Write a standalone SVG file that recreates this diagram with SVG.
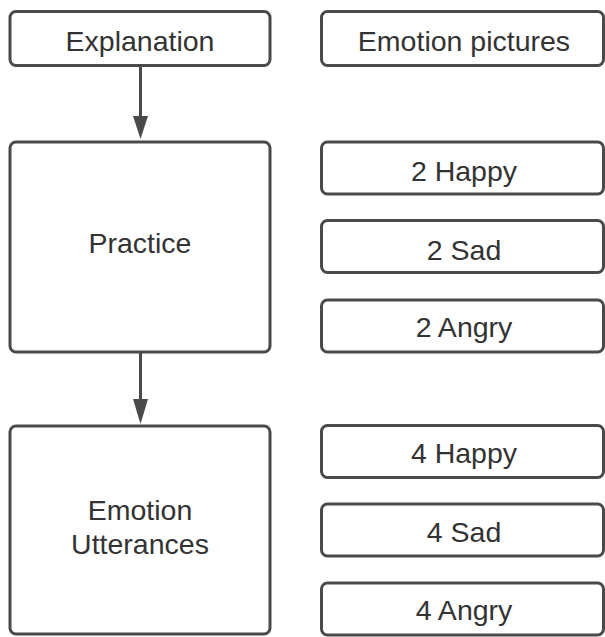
<svg xmlns="http://www.w3.org/2000/svg" width="605" height="637" viewBox="0 0 605 637">
<style>
.box{fill:#ffffff;stroke:#4a4a4a;stroke-width:3}
.lbl{font-family:"Liberation Sans",Arial,sans-serif;font-size:28.5px;fill:#333333;text-anchor:middle}
.conn{stroke:#4a4a4a;stroke-width:3;fill:none}
.head{fill:#4a4a4a}
</style>
<rect width="605" height="637" fill="#ffffff"/>
<g id="explanation"><rect class="box" x="10" y="11.5" width="260" height="54" rx="6"/><text class="lbl" x="140" y="51">Explanation</text></g>
<g id="practice"><rect class="box" x="10" y="142" width="260" height="210" rx="6"/><text class="lbl" x="140" y="253">Practice</text></g>
<g id="emotion-utterances"><rect class="box" x="10" y="426" width="260" height="208" rx="6"/><text class="lbl" x="140" y="519.5">Emotion</text><text class="lbl" x="140" y="553.5">Utterances</text></g>
<g id="emotion-pictures"><rect class="box" x="321.5" y="11.5" width="282" height="54" rx="6"/><text class="lbl" x="464" y="51">Emotion pictures</text></g>
<g id="happy2"><rect class="box" x="321.5" y="142" width="282" height="52" rx="6"/><text class="lbl" x="464" y="181">2 Happy</text></g>
<g id="sad2"><rect class="box" x="321.5" y="220.5" width="282" height="52" rx="6"/><text class="lbl" x="464" y="259.5">2 Sad</text></g>
<g id="angry2"><rect class="box" x="321.5" y="300" width="282" height="52" rx="6"/><text class="lbl" x="464" y="337">2 Angry</text></g>
<g id="happy4"><rect class="box" x="321.5" y="425.5" width="282" height="52" rx="6"/><text class="lbl" x="464" y="463">4 Happy</text></g>
<g id="sad4"><rect class="box" x="321.5" y="504" width="282" height="52" rx="6"/><text class="lbl" x="464" y="541.5">4 Sad</text></g>
<g id="angry4"><rect class="box" x="321.5" y="583" width="282" height="52" rx="6"/><text class="lbl" x="464" y="620">4 Angry</text></g>
<g id="connectors">
<line class="conn" x1="140.5" y1="67" x2="140.5" y2="118"/>
<polygon class="head" points="133,116 148,116 140.5,139"/>
<line class="conn" x1="140.5" y1="353" x2="140.5" y2="401"/>
<polygon class="head" points="133,399 148,399 140.5,424"/>
</g>
</svg>
